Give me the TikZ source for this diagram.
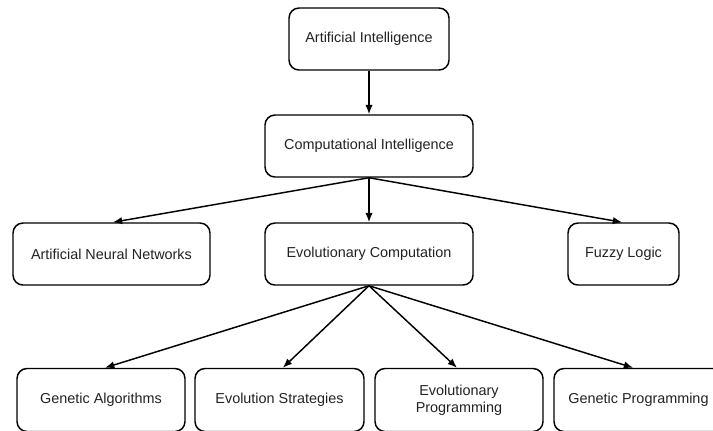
\documentclass[tikz,border=0pt]{standalone}
\usepackage{fontspec}
\setmainfont{Liberation Sans}
\usetikzlibrary{arrows.meta,calc}
\definecolor{ink}{HTML}{222222}
\tikzset{
  box/.style={draw=black, line width=1.1pt, rounded corners=7.5pt, inner sep=0pt,
    minimum height=46.5pt, align=center, text=ink,
    font=\fontsize{10.8}{12.5}\selectfont},
  link/.style={draw=black, line width=1.1pt, -{Latex[length=7pt,width=5.5pt]}}
}
\begin{document}
\begin{tikzpicture}[x=0.75pt,y=-0.75pt]
  \useasboundingbox (0,0) rectangle (713,430);
  \clip (0,0) rectangle (713,430);
  % top levels
  \node[box, minimum width=120pt] (ai) at (369,39) {Artificial Intelligence};
  \node[box, minimum width=156pt] (ci) at (369,146) {Computational Intelligence};
  % middle level
  \node[box, minimum width=147.75pt] (ann) at (111.5,254) {Artificial Neural Networks};
  \node[box, minimum width=156pt] (ec) at (369,254) {Evolutionary Computation};
  \node[box, minimum width=83.25pt] (fl) at (623.5,254) {Fuzzy Logic};
  % bottom level
  \node[box, minimum width=126pt, minimum height=47.25pt] (ga) at (101,400) {Genetic Algorithms};
  \node[box, minimum width=126.75pt, minimum height=47.25pt] (es) at (279.5,400) {Evolution Strategies};
  \node[box, minimum width=126pt, minimum height=47.25pt] (ep) at (459,400) {Evolutionary\\Programming};
  \node[box, minimum width=126.75pt, minimum height=47.25pt] (gp) at (638.5,400) {Genetic Programming};
  % connectors
  \draw[link] (ai.south) -- (ci.north);
  \draw[link] (ci.south) -- ([xshift=1pt]ann.north);
  \draw[link] (ci.south) -- (ec.north);
  \draw[link] (ci.south) -- ([xshift=-1pt]fl.north);
  \draw[link] (ec.south) -- ([xshift=3pt]ga.north);
  \draw[link] (ec.south) -- ([xshift=2.5pt]es.north);
  \draw[link] (ec.south) -- ([xshift=-1.5pt]ep.north);
  \draw[link] (ec.south) -- ([xshift=-4pt]gp.north);
\end{tikzpicture}
\end{document}
